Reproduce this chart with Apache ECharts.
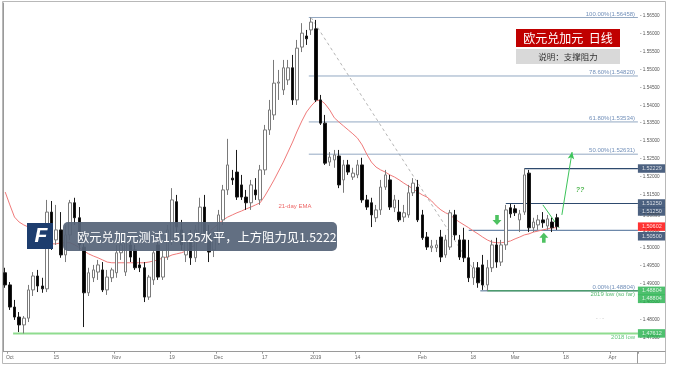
<!DOCTYPE html>
<html><head><meta charset="utf-8">
<script src="https://cdn.jsdelivr.net/npm/echarts@6/dist/echarts.min.js"></script>
<style>html,body{margin:0;padding:0;background:#fff}#c{width:676px;height:367px}</style>
</head><body><div id="c"></div>
<script>
// ---- data ----
const opens=[1.4931,1.4897,1.4835,1.4807,1.4785,1.4804,1.4883,1.4922,1.4894,1.4886,
1.5101,1.5023,1.5051,1.4981,1.5037,1.5127,1.5085,1.5003,1.4875,1.4917,
1.4933,1.4939,1.4883,1.4917,1.4931,1.4987,1.4933,1.5009,1.4995,1.4953,
1.4945,1.4863,1.4911,1.5009,1.4919,1.4975,1.5023,1.5130,1.5051,1.4981,
1.5023,1.4973,1.5037,1.5115,1.5043,1.4995,1.5031,1.5079,1.5163,1.5196,
1.5213,1.5177,1.5143,1.5127,1.5163,1.5135,1.5219,1.5331,1.5373,1.5462,
1.5443,1.5471,1.5505,1.5415,1.5563,1.5594,1.5611,1.5614,1.5415,1.5350,
1.5241,1.5247,1.5258,1.5191,1.5233,1.5199,1.5205,1.5233,1.5135,1.5127,
1.5085,1.5107,1.5171,1.5191,1.5113,1.5101,1.5087,1.5093,1.5155,1.5171,
1.5093,1.5031,1.5001,1.5001,1.5031,1.4981,1.5003,1.5093,1.5023,1.5023,
1.4973,1.4917,1.4945,1.4953,1.4897,1.4945,1.5009,1.4961,1.5009,1.5113,
1.5110,1.5079,1.5101,1.5210,1.5057,1.5065,1.5079,1.5062,1.5073,1.5085];
const highs=[1.4945,1.4905,1.4855,1.4821,1.4810,1.4897,1.4933,1.4939,1.4917,1.5135,
1.5132,1.5121,1.5101,1.5065,1.5135,1.5141,1.5115,1.5029,1.4945,1.4953,
1.4967,1.4961,1.4939,1.4945,1.5009,1.5023,1.5034,1.5023,1.5009,1.4973,
1.4961,1.4925,1.4995,1.5037,1.4995,1.5065,1.5168,1.5149,1.5079,1.5037,
1.5051,1.5065,1.5141,1.5149,1.5065,1.5045,1.5107,1.5177,1.5306,1.5219,
1.5275,1.5205,1.5163,1.5191,1.5196,1.5233,1.5345,1.5415,1.5527,1.5499,
1.5527,1.5527,1.5541,1.5583,1.5630,1.5611,1.56458,1.5639,1.5429,1.5373,
1.5269,1.5275,1.5275,1.5247,1.5247,1.5225,1.5247,1.5253,1.5149,1.5141,
1.5121,1.5191,1.5219,1.5205,1.5149,1.5135,1.5121,1.5177,1.5196,1.5191,
1.5107,1.5045,1.5023,1.5023,1.5051,1.5037,1.5107,1.5107,1.5037,1.5057,
1.5023,1.4961,1.4961,1.4981,1.4967,1.5023,1.5029,1.5023,1.5121,1.5124,
1.5121,1.5107,1.52229,1.5219,1.5085,1.5093,1.5101,1.5093,1.5085,1.5096];
const lows=[1.4889,1.4827,1.4799,1.4765,1.47612,1.4793,1.4866,1.4877,1.4875,1.4877,
1.4995,1.5009,1.4973,1.4961,1.5023,1.5065,1.4995,1.4779,1.4866,1.4905,
1.4911,1.4877,1.4869,1.4905,1.4917,1.4967,1.4922,1.4961,1.4939,1.4933,
1.4849,1.4855,1.4897,1.4911,1.4911,1.4967,1.5009,1.5045,1.4995,1.4961,
1.4953,1.4961,1.5023,1.5034,1.4961,1.4975,1.5009,1.5065,1.5149,1.5177,
1.5135,1.5135,1.5107,1.5107,1.5135,1.5121,1.5205,1.5317,1.5359,1.5415,
1.5429,1.5457,1.5401,1.5401,1.5549,1.5569,1.5597,1.5409,1.5345,1.5233,
1.5230,1.5225,1.5168,1.5155,1.5205,1.5191,1.5196,1.5127,1.5107,1.5059,
1.5073,1.5093,1.5163,1.5107,1.5101,1.5073,1.5073,1.5085,1.5146,1.5073,
1.5023,1.4995,1.4989,1.4989,1.4961,1.4973,1.4995,1.5023,1.4967,1.4961,
1.4905,1.4897,1.4889,1.4883,1.48804,1.4933,1.4945,1.4950,1.4995,1.5085,
1.5090,1.5045,1.5093,1.5045,1.5045,1.5051,1.5057,1.5051,1.5045,1.5051];
const closes=[1.4897,1.4835,1.4807,1.4785,1.4804,1.4883,1.4922,1.4894,1.4886,1.5101,
1.5023,1.5051,1.4981,1.5037,1.5127,1.5085,1.5009,1.4875,1.4931,1.4939,
1.4953,1.4883,1.4919,1.4939,1.4987,1.5009,1.5023,1.4975,1.4945,1.4945,
1.4863,1.4919,1.4987,1.4919,1.4975,1.5051,1.5135,1.5059,1.5009,1.5023,
1.4973,1.5051,1.5115,1.5043,1.4989,1.5031,1.5093,1.5163,1.5233,1.5191,
1.5143,1.5143,1.5127,1.5177,1.5149,1.5219,1.5331,1.5387,1.5462,1.5465,
1.5505,1.5505,1.5415,1.5560,1.5602,1.5586,1.5633,1.5415,1.5350,1.5238,
1.5255,1.5261,1.5177,1.5233,1.5213,1.5210,1.5233,1.5135,1.5115,1.5093,
1.5107,1.5171,1.5205,1.5115,1.5135,1.5079,1.5099,1.5155,1.5182,1.5079,
1.5029,1.5003,1.5006,1.5009,1.4975,1.5023,1.5099,1.5037,1.4975,1.4973,
1.4917,1.4945,1.4903,1.4897,1.4945,1.5009,1.4961,1.5009,1.5107,1.5096,
1.5099,1.5096,1.5205,1.5057,1.5073,1.5079,1.5071,1.5082,1.5057,1.50602];
const ema21=[1.5157,1.5121,1.5087,1.5073,1.5065,1.5059,1.5051,1.5043,1.5034,1.5023,
1.5012,1.5012,1.5015,1.5015,1.5015,1.5009,1.5001,1.4992,1.4984,1.4978,
1.4973,1.4967,1.4961,1.4959,1.4959,1.4959,1.4959,1.4959,1.4959,1.4959,
1.4959,1.4961,1.4964,1.4967,1.4973,1.4975,1.4981,1.4984,1.4987,1.4992,
1.5001,1.5009,1.5020,1.5034,1.5045,1.5057,1.5068,1.5079,1.5087,1.5093,
1.5099,1.5104,1.5110,1.5115,1.5121,1.5127,1.5146,1.5168,1.5191,1.5216,
1.5241,1.5269,1.5297,1.5328,1.5356,1.5381,1.5398,1.5412,1.5415,1.5404,
1.5387,1.5365,1.5353,1.5342,1.5331,1.5320,1.5308,1.5289,1.5263,1.5241,
1.5227,1.5219,1.5213,1.5205,1.5199,1.5191,1.5182,1.5174,1.5166,1.5157,
1.5149,1.5143,1.5132,1.5118,1.5107,1.5099,1.5093,1.5082,1.5073,1.5065,
1.5057,1.5048,1.5040,1.5031,1.5023,1.5017,1.5015,1.5015,1.5017,1.5020,
1.5026,1.5031,1.5037,1.5040,1.5045,1.5048,1.5051,1.5054,1.5057,1.5057];

const tickDates=['2018-10-01','2018-10-15','2018-11-01','2018-11-19','2018-12-03','2018-12-17','2019-01-01','2019-01-14','2019-02-01','2019-02-18','2019-03-01','2019-03-18','2019-04-01'];
const tickTexts=['Oct','15','Nov','19','Dec','17','2019','14','Feb','18','Mar','18','Apr'];

const fibPct=['100.00%','78.60%','61.80%','50.00%','0.00%'];
const fibVal=[1.56458,1.54820,1.53534,1.52631,1.48804];
const fibStart=[66,66,66,66,103];
const highIdx=66, lowIdx=104;

const srVal=[1.52229,1.51250,1.50500];
const srStart=[112.5,108.5,100.5];
const low2019=1.48804, low2019Start=104.5;
const low2018=1.47612, low2018Start=2.2;

const tagVal=[1.52229,1.51250,1.51250,1.50895,1.50602,1.50500,1.48804,1.48804,1.47612];
const tagBg=['#1f3a60','#1f3a60','#1f3a60',null,'#ff0000','#1f3a60','#22b04a','#22b04a','#22b04a'];
const tagShift=[0,0,8,0,0,6,0,8,0];

const arrowDown=[106.6,1.5079], arrowUp=[116.7,1.5029];
const projLine=[[120.6,1.5093],[122.8,1.5269]];
const trendLine=[[116.5,1.5121],[120.0,1.5057]];
const qMark=[124.5,1.5163];

// ---- build ----
const N=137;
const dates=[];
(function(){let t=Date.UTC(2018,8,28);while(dates.length<N){const d=new Date(t);const w=d.getUTCDay();if(w!==0&&w!==6)dates.push(d.toISOString().slice(0,10));t+=86400000;}})();

function hline(v,x0,color,width){return {type:'line',xAxisIndex:1,yAxisIndex:0,data:[[x0,v],[N,v]],symbol:'none',silent:true,lineStyle:{color:color,width:width},z:3,animation:false};}

const series=[];
fibVal.forEach((v,i)=>series.push(hline(v,fibStart[i],i===4?'#46698c':'#93a8c2',1)));
series.push(hline(srVal[0],srStart[0],'#2e4a6e',1.2));
series.push(hline(srVal[1],srStart[1],'#2e4a6e',1.2));
series.push(hline(srVal[2],srStart[2],'#6d88aa',1.3));
series.push(hline(low2019,low2019Start,'#2f9a4a',1));
series.push(hline(low2018,low2018Start,'#8fdc8f',2));
series.push({type:'line',xAxisIndex:1,data:[[highIdx+0.5,fibVal[0]],[lowIdx+0.5,fibVal[4]]],symbol:'none',silent:true,lineStyle:{color:'#b5b5b5',width:1,type:[3,3]},z:2});
series.push({type:'line',xAxisIndex:0,data:ema21,symbol:'none',silent:true,lineStyle:{color:'#f07a7a',width:1},z:4});
series.push({type:'candlestick',xAxisIndex:0,yAxisIndex:0,barWidth:3,
  data:opens.map((o,i)=>[o,closes[i],lows[i],highs[i]]),
  itemStyle:{color:'#ffffff',color0:'#000000',borderColor:'#7a7a7a',borderColor0:'#1a1a1a',borderWidth:1},z:5});
series.push({type:'line',xAxisIndex:1,data:[],silent:true,z:7,
  markLine:{silent:true,animation:false,label:{show:false},
   data:[[{coord:projLine[0],symbol:'none'},{coord:projLine[1],symbol:'arrow',symbolSize:[5,7]}],
         [{coord:trendLine[0],symbol:'none'},{coord:trendLine[1],symbol:'none'}]],
   lineStyle:{color:'#3cc45a',width:1,type:'solid'}}});
const arrowPath='path://M3,0 L7,0 L7,5 L10,5 L5,10 L0,5 L3,5 Z';
series.push({type:'scatter',xAxisIndex:1,silent:true,z:8,
  data:[{value:arrowDown,symbol:arrowPath,symbolRotate:0},{value:arrowUp,symbol:arrowPath,symbolRotate:180}],
  symbolSize:[9,10],itemStyle:{color:'#22b33a'}});
series.push({type:'scatter',xAxisIndex:1,silent:true,z:8,symbolSize:0,data:[qMark],
  label:{show:true,position:'inside',formatter:'??',color:'#33aa33',fontSize:7,fontStyle:'italic',fontWeight:'bold',fontFamily:'Liberation Sans'}});
const txt=[];
fibVal.forEach((v,i)=>txt.push({value:[136.4,v],label:{formatter:fibPct[i]+'('+v.toFixed(5)+')',offset:[0,-3.5],color:'#4d73a8'}}));
txt.push({value:[136.4,low2019],label:{formatter:'2019 low (so far)',offset:[0,3.5],color:'#2aa84a'}});
txt.push({value:[136.4,low2018],label:{formatter:'2018 low',offset:[0,4],color:'#3cb85a'}});
series.push({type:'scatter',xAxisIndex:1,silent:true,z:9,symbolSize:0,data:txt,
  label:{show:true,position:'left',distance:0,fontSize:6,fontFamily:'Liberation Sans'}});
series.push({type:'scatter',xAxisIndex:1,silent:true,z:9,symbolSize:0,data:[[63.0,1.5118]],
  label:{show:true,position:'inside',formatter:'21-day EMA',color:'#e84040',fontSize:6,fontFamily:'Liberation Sans'}});
series.push({type:'scatter',xAxisIndex:1,silent:true,clip:false,z:20,symbolSize:0,
  data:tagVal.map((v,i)=>({value:[N,v],label:tagBg[i]?{offset:[0,tagShift[i]],backgroundColor:tagBg[i],color:'#fff',formatter:v.toFixed(5),padding:[1.5,4,1,4],distance:0}:{offset:[0,tagShift[i]],color:'#555',formatter:'- '+v.toFixed(5),distance:2,fontSize:4.8}})),
  label:{show:true,position:'right',fontSize:5.5,fontFamily:'Liberation Sans'}});

const option={
  animation:false,
  backgroundColor:'#fff',
  grid:{left:2.9,right:38.1,top:3,bottom:15.3,containLabel:false},
  xAxis:[
    {type:'category',data:dates,boundaryGap:true,
     axisLine:{show:true,lineStyle:{color:'#9a9a9a'}},
     axisTick:{show:true,length:2,interval:(i,v)=>tickDates.indexOf(v)>=0,lineStyle:{color:'#999'}},
     axisLabel:{show:true,interval:(i,v)=>tickDates.indexOf(v)>=0,formatter:v=>{const k=tickDates.indexOf(v);return k>=0?tickTexts[k]:'';},fontSize:5,color:'#666',margin:3,fontFamily:'Liberation Sans'},
     splitLine:{show:false}},
    {type:'value',min:0,max:N,show:false,splitLine:{show:false}}
  ],
  yAxis:[{type:'value',position:'right',min:1.471,max:1.56864,interval:0.0005,scale:true,
     axisLine:{show:true,lineStyle:{color:'#9a9a9a'}},axisTick:{show:false},splitLine:{show:false},
     axisLabel:{show:true,margin:2,fontSize:4.7,color:'#555',fontFamily:'Liberation Sans',
       formatter:v=>{const k=v*200;return Math.abs(k-Math.round(k))<1e-6?'- '+v.toFixed(5):'';}}}],
  series:series,
  graphic:[
    {type:'rect',z:100,silent:true,shape:{x:2.5,y:1.5,width:663,height:362},style:{fill:'none',stroke:'#b8b8b8',lineWidth:1}},
    {type:'line',z:100,silent:true,shape:{x1:637.5,y1:351.5,x2:637.5,y2:363.5},style:{stroke:'#9a9a9a',lineWidth:1}},
    {type:'line',z:100,silent:true,shape:{x1:637.5,y1:351.5,x2:665.5,y2:351.5},style:{stroke:'#9a9a9a',lineWidth:1}},
    {type:'rect',z:100,silent:true,shape:{x:516,y:29,width:104,height:18},style:{fill:'#c00000'}},
    {type:'text',z:101,silent:true,x:568,y:38,style:{text:'欧元兑加元  日线',fill:'#fff',font:'12px "Noto Sans CJK SC"',align:'center',verticalAlign:'middle'}},
    {type:'rect',z:100,silent:true,shape:{x:516,y:49,width:104,height:15},style:{fill:'#d9d9d9'}},
    {type:'text',z:101,silent:true,x:568,y:56.5,style:{text:'说明：支撑阻力',fill:'#333',font:'8.5px "Noto Sans CJK SC"',align:'center',verticalAlign:'middle'}},
    {type:'rect',z:100,silent:true,shape:{x:63,y:222,width:274,height:29,r:5},style:{fill:'rgba(86,100,120,0.93)'}},
    {type:'text',z:101,silent:true,x:77,y:237,style:{text:'欧元兑加元测试1.5125水平，上方阻力见1.5222',fill:'#fff',font:'12.3px "Noto Sans CJK SC"',verticalAlign:'middle'}},
    {type:'rect',z:100,silent:true,shape:{x:27,y:223,width:26,height:26},style:{fill:'#1d3d6e'}},
    {type:'text',z:101,silent:true,x:41,y:236,style:{text:'F',fill:'#fff',font:'bold italic 21px "Liberation Sans"',align:'center',verticalAlign:'middle'}},
    {type:'text',z:101,silent:true,x:600,y:319,style:{text:'- · -',fill:'#bbb',font:'5px "Liberation Sans"',align:'center',verticalAlign:'middle'}}
  ]
};
const chart=echarts.init(document.getElementById('c'),null,{renderer:'canvas'});
chart.setOption(option);
</script></body></html>
